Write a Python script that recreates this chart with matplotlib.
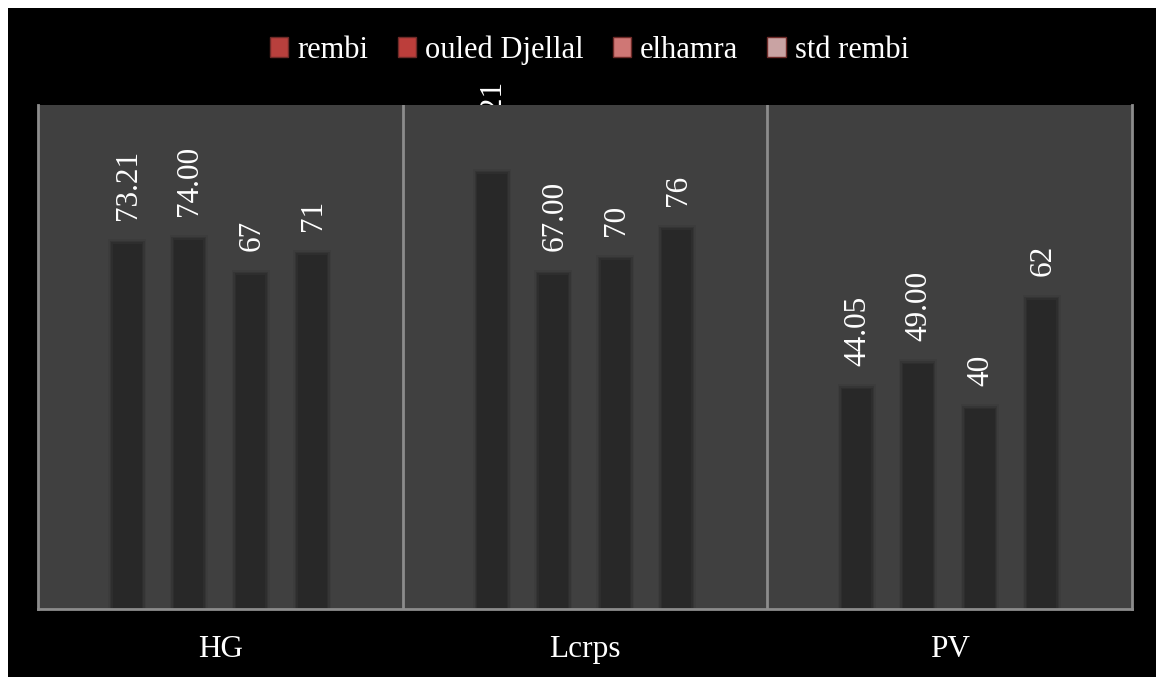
import matplotlib
matplotlib.use('Agg')
import matplotlib.pyplot as plt
from matplotlib.patches import Patch, Rectangle
import numpy as np

plt.rcParams['font.family'] = ['Liberation Serif', 'DejaVu Serif']

# data
categories = ['HG', 'Lcrps', 'PV']
series_names = ['rembi', 'ouled Djellal', 'elhamra', 'std rembi']
rembi = [73.21, 87.21, 44.05]
ouled_djellal = [74.00, 67.00, 49.00]
elhamra = [67, 70, 40]
std_rembi = [71, 76, 62]
label_fmt = ['{:.2f}', '{:.2f}', '{:.0f}', '{:.0f}']
legend_colors = ['#b8403d', '#bc3e3b', '#cf7775', '#c9a3a3']

series = [rembi, ouled_djellal, elhamra, std_rembi]

fig = plt.figure(figsize=(11.56, 6.77), dpi=100)
fig.patch.set_facecolor('white')
# black chart area (white strip on top/left like the original)
fig.patches.append(Rectangle((8 / 1156, -0.01), 1.01, 1.01 - 8 / 677, transform=fig.transFigure,
                             facecolor='black', edgecolor='none', zorder=-10))

ax_left, ax_right = 38 / 1156, 1132 / 1156
ax_bottom, ax_top = 1 - 609 / 677, 1 - 105 / 677
ax = fig.add_axes([ax_left, ax_bottom, ax_right - ax_left, ax_top - ax_bottom])
ax.set_facecolor('#404040')

x = np.arange(len(categories))
offsets = [-0.255, -0.087, 0.083, 0.252]
bar_col = '#282828'

for i, vals in enumerate(series):
    xs = x + offsets[i]
    # soft edges: a few overlapping translucent layers
    for w, a, dh in [(0.104, 0.15, 1.0), (0.096, 0.3, 0.6), (0.088, 0.5, 0.3), (0.080, 1.0, 0.0)]:
        ax.bar(xs, np.array(vals) + dh, width=w, color=bar_col, alpha=a, linewidth=0, zorder=2)
    for xi, v in zip(xs, vals):
        t = ax.annotate(label_fmt[i].format(v), xy=(xi, v), xytext=(1, 17),
                        textcoords='offset points', rotation=90, ha='center', va='bottom',
                        color='white', fontsize=22.5, zorder=5, annotation_clip=False)
        if v > 85:
            # the part inside the plot area is hidden in the original
            clip = Rectangle((0, ax_top), 1, 1 - ax_top, transform=fig.transFigure)
            t.set_clip_path(clip)

ax.set_xlim(-0.5, 2.5)
ax.set_ylim(0, 101)

for b in [0.5, 1.5]:
    ax.axvline(b, color='#8c8c8c', linewidth=2, zorder=1)

for s in ['left', 'right', 'bottom']:
    ax.spines[s].set_color('#8c8c8c')
    ax.spines[s].set_linewidth(2)
ax.spines['top'].set_visible(False)

ax.set_yticks([])
ax.set_xticks(x)
ax.set_xticklabels(categories, color='white', fontsize=22.5)
ax.tick_params(axis='x', length=0, pad=19)

handles = [Patch(facecolor=c, edgecolor='#6e2a28', linewidth=1) for c in legend_colors]
leg = fig.legend(handles, series_names, loc='center', bbox_to_anchor=(0.51, 1 - 50 / 677),
                 ncol=4, frameon=False, fontsize=22, handlelength=0.6, handleheight=0.6,
                 handletextpad=0.3, columnspacing=0.95, labelcolor='white')

fig.savefig('out.png', dpi=100, facecolor=fig.get_facecolor())
